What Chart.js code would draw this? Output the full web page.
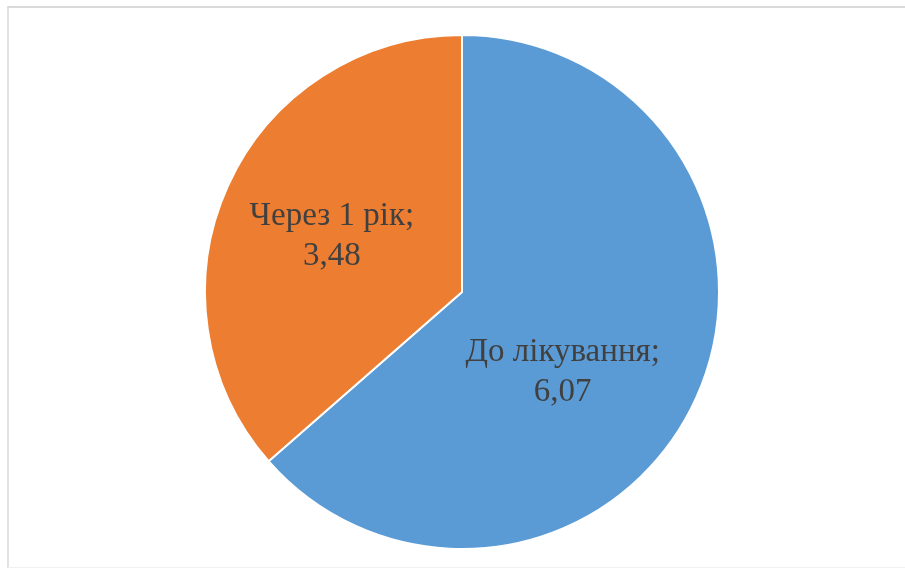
<!DOCTYPE html>
<html>
<head>
<meta charset="utf-8">
<script src="https://cdn.jsdelivr.net/npm/chart.js@4"></script>
<style>
    html, body { margin: 0; padding: 0; background: #fff; }
    #wrap { position: relative; width: 905px; height: 574px; }
    #frame {
        position: absolute; left: 7px; top: 6px; width: 905px; height: 562px;
        border-top: 2px solid #dadada; border-left: 2px solid #e2e2e2;
        border-bottom: 1px solid #f1f1f1; box-sizing: border-box;
    }
    canvas { position: absolute; left: 0; top: 0; }
</style>
</head>
<body>
<div id="wrap">
    <div id="frame"></div>
    <canvas id="chart" width="905" height="574"></canvas>
</div>
<script>
"use strict";
const categories = ['До лікування', 'Через 1 рік'];
const values = [6.07, 3.48];
const colors = ['#5b9bd5', '#ed7d31'];

// label placement per slice: angle shift from the bisector (deg) and radius fraction
const labelPlace = [{ shift: 14, r: 0.5 }, { shift: -1.4, r: 0.55 }];

const sliceLabels = {
    id: 'sliceLabels',
    afterDatasetsDraw(chart) {
        const ctx = chart.ctx;
        const arcs = chart.getDatasetMeta(0).data;
        ctx.save();
        ctx.font = '33px "Liberation Serif", "Times New Roman", serif';
        ctx.fillStyle = '#404040';
        ctx.textAlign = 'center';
        ctx.textBaseline = 'middle';
        arcs.forEach((arc, i) => {
            const p = arc.getProps(['x', 'y', 'startAngle', 'endAngle', 'outerRadius']);
            const a = (p.startAngle + p.endAngle) / 2 + labelPlace[i].shift * Math.PI / 180;
            const rr = p.outerRadius * labelPlace[i].r;
            const x = p.x + Math.cos(a) * rr;
            const y = p.y + Math.sin(a) * rr;
            const text = values[i].toFixed(2).replace('.', ',');
            ctx.fillText(categories[i] + ';', x, y - 20);
            ctx.fillText(text, x, y + 20);
        });
        ctx.restore();
    }
};

new Chart(document.getElementById('chart'), {
    type: 'pie',
    data: {
        labels: categories,
        datasets: [{
            data: values,
            backgroundColor: colors,
            borderColor: '#ffffff',
            borderWidth: 2
        }]
    },
    options: {
        responsive: false,
        animation: false,
        layout: { padding: { top: 34, bottom: 24, left: 204, right: 185 } },
        plugins: {
            legend: { display: false },
            tooltip: { enabled: false }
        }
    },
    plugins: [sliceLabels]
});
</script>
</body>
</html>
